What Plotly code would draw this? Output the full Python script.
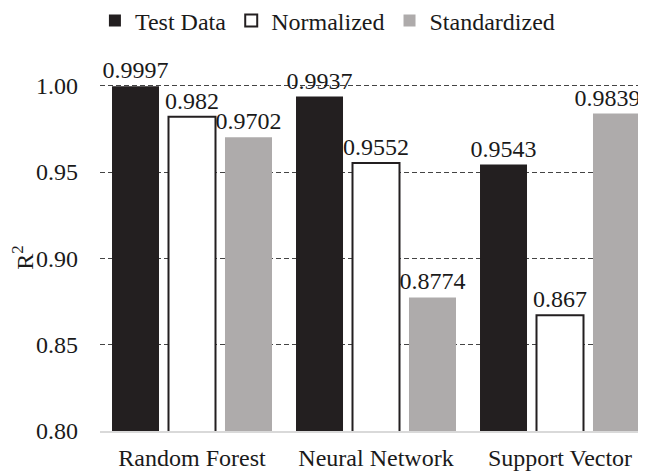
import plotly.graph_objects as go

models = ["Random Forest", "Neural Network", "Support Vector"]
test_data = [0.9997, 0.9937, 0.9543]
normalized = [0.982, 0.9552, 0.867]
standardized = [0.9702, 0.8774, 0.9839]
y_ticks = [0.80, 0.85, 0.90, 0.95, 1.00]

FONT = "Liberation Serif"
INK = "#231f20"
NBSP = "\u00a0"


def labels(values, pad_last=False):
    out = [str(v) for v in values]
    if pad_last:
        # last label sits at the right edge, nudge it left like the original
        out[-1] = out[-1] + NBSP * 3
    return out


fig = go.Figure()
fig.add_trace(go.Bar(
    x=models, y=test_data, name="Test Data",
    marker=dict(color=INK, line=dict(width=0)),
    text=labels(test_data), textposition="outside",
    cliponaxis=False, constraintext="none",
))
fig.add_trace(go.Bar(
    x=models, y=normalized, name="Normalized",
    marker=dict(color="white", line=dict(color=INK, width=2)),
    text=labels(normalized), textposition="outside",
    cliponaxis=False, constraintext="none",
))
fig.add_trace(go.Bar(
    x=models, y=standardized, name="Standardized",
    marker=dict(color="#aeabab", line=dict(width=0)),
    text=labels(standardized, pad_last=True), textposition="outside",
    cliponaxis=False, constraintext="none",
))

fig.update_traces(textfont=dict(family=FONT, size=24, color="#1a1a1a"))

# the page has an 8px body margin, so margins are shifted by that much
fig.update_layout(
    width=646, height=473,
    margin=dict(l=92, r=2, t=76, b=50, autoexpand=False),
    paper_bgcolor="white", plot_bgcolor="white",
    font=dict(family=FONT, size=24, color="#1a1a1a"),
    barmode="group", bargap=0.079, bargroupgap=0.168,
    showlegend=True,
    legend=dict(
        orientation="h", x=0.412, xanchor="center", y=1.182, yanchor="middle",
        font=dict(family=FONT, size=24), itemsizing="constant",
        traceorder="normal", itemwidth=30, bgcolor="rgba(0,0,0,0)",
    ),
)

# range goes a hair past 1.00 so the top gridline is still drawn
fig.update_yaxes(
    range=[0.8, 1.001], tickvals=y_ticks, tickformat=".2f",
    showgrid=True, gridcolor="#444444", griddash="5px,3px", gridwidth=1,
    zeroline=False, showline=False, ticks="", ticklabelstandoff=21,
    automargin=False,
    title=dict(text="R<sup>2</sup>", standoff=5, font=dict(family=FONT, size=24)),
)
fig.update_xaxes(
    showgrid=False, showline=True, linecolor="#d9d9d9", linewidth=2,
    ticks="", ticklabelstandoff=4, automargin=False,
)

fig.write_html("out.html")
